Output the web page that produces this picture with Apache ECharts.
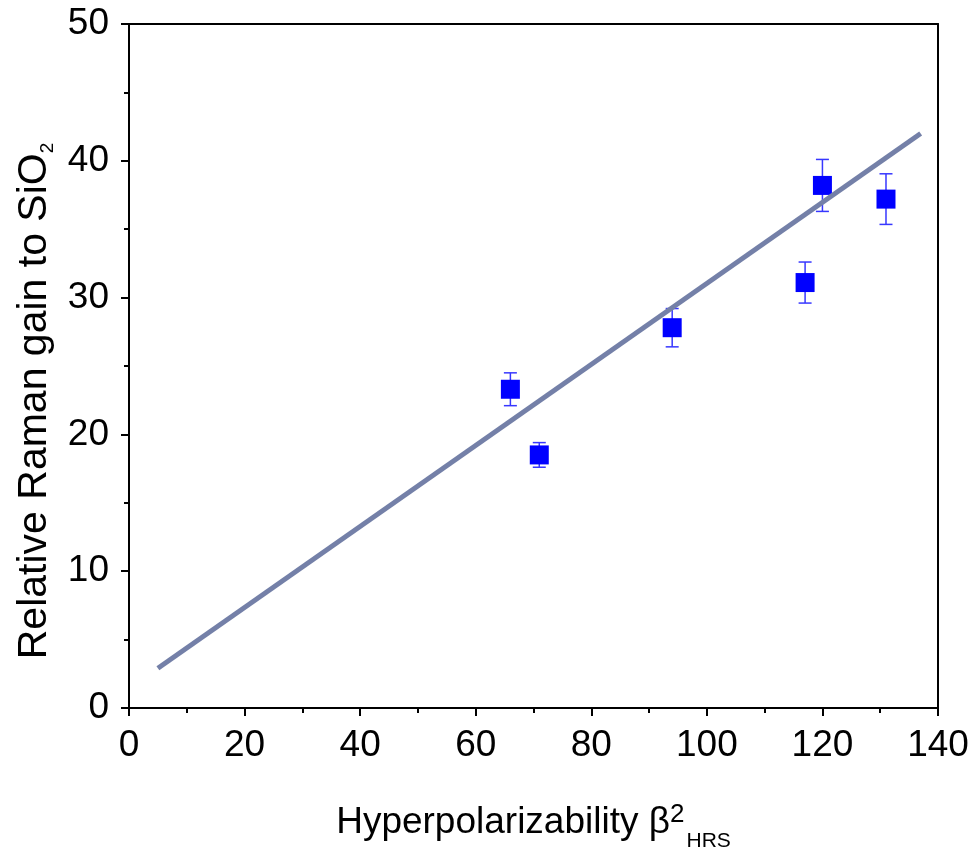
<!DOCTYPE html>
<html><head><meta charset="utf-8">
<script src="https://cdn.jsdelivr.net/npm/echarts@6/dist/echarts.min.js"></script>
<style>html,body{margin:0;padding:0;background:#fff}#c{width:971px;height:851px}</style>
</head><body><div id="c"></div>
<script>
// measured points
const xValues = [66, 71, 94, 117, 120, 131];
const yValues = [23.3, 18.5, 27.8, 31.1, 38.2, 37.2];
const yErrors = [1.2, 0.9, 1.4, 1.5, 1.9, 1.85];
// linear fit end points
const fitX = [5, 137];
const fitY = [2.9, 42.0];
// axes
const xRange = [0, 140];
const xStep = 20;
const yRange = [0, 50];
const yStep = 10;

const FONT = "'Liberation Sans', Arial, sans-serif";
const chart = echarts.init(document.getElementById('c'), null, {renderer: 'canvas'});

const pointData = xValues.map((x, i) => [x, yValues[i]]);
const errData = xValues.map((x, i) => [x, yValues[i], yErrors[i]]);
const fitData = fitX.map((x, i) => [x, fitY[i]]);

const axisLine = {show: true, onZero: false, lineStyle: {color: '#000', width: 2}};

chart.setOption({
  animation: false,
  backgroundColor: '#fff',
  grid: {left: 129, top: 24, width: 809, height: 684, containLabel: false, outerBoundsMode: 'none'},
  xAxis: [{
    type: 'value', min: xRange[0], max: xRange[1], interval: xStep,
    axisLine: axisLine,
    axisTick: {show: true, inside: false, length: 8, lineStyle: {color: '#000', width: 2}},
    minorTick: {show: true, splitNumber: 2, length: 5, lineStyle: {color: '#000', width: 2}},
    splitLine: {show: false}, minorSplitLine: {show: false},
    axisLabel: {fontSize: 37, color: '#000', fontFamily: FONT, margin: 19},
    name: '{m|Hyperpolarizability β}{sup|2}{sub|HRS}',
    nameLocation: 'middle', nameGap: 94,
    nameTextStyle: {
      color: '#000', fontFamily: FONT,
      rich: {
        m: {fontSize: 37, fontFamily: FONT, color: '#000', verticalAlign: 'top', padding: [2.5, 0, 0, 0]},
        sup: {fontSize: 26, fontFamily: FONT, color: '#000', verticalAlign: 'top', padding: [0, 0, 0, 0]},
        sub: {fontSize: 21, fontFamily: FONT, color: '#000', verticalAlign: 'top', padding: [29, 0, 0, 2]}
      }
    }
  }, {
    type: 'value', position: 'top', min: xRange[0], max: xRange[1], interval: xStep,
    axisLine: axisLine, axisTick: {show: false}, axisLabel: {show: false}, splitLine: {show: false}
  }],
  yAxis: [{
    type: 'value', min: yRange[0], max: yRange[1], interval: yStep,
    axisLine: axisLine,
    axisTick: {show: true, inside: false, length: 8, lineStyle: {color: '#000', width: 2}},
    minorTick: {show: true, splitNumber: 2, length: 5, lineStyle: {color: '#000', width: 2}},
    splitLine: {show: false}, minorSplitLine: {show: false},
    axisLabel: {fontSize: 37, color: '#000', fontFamily: FONT, margin: 20},
    name: '{m|Relative Raman gain to SiO}{sub|2}',
    nameLocation: 'middle', nameRotate: 90, nameGap: 52,
    nameTextStyle: {
      color: '#000', fontFamily: FONT, padding: [0, 70, 0, 0],
      rich: {
        m: {fontSize: 41, fontFamily: FONT, color: '#000', verticalAlign: 'top', padding: [0, 0, 0, 0]},
        sub: {fontSize: 19, fontFamily: FONT, color: '#000', verticalAlign: 'top', padding: [23.5, 0, 0, 0]}
      }
    }
  }, {
    type: 'value', position: 'right', min: yRange[0], max: yRange[1], interval: yStep,
    axisLine: axisLine, axisTick: {show: false}, axisLabel: {show: false}, splitLine: {show: false}
  }],
  series: [{
    type: 'custom',
    data: errData,
    z: 2,
    renderItem: function (params, api) {
      const x = api.value(0), y = api.value(1), e = api.value(2);
      const t = api.coord([x, y + e]);
      const b = api.coord([x, y - e]);
      const hw = 6.5;
      const st = {stroke: '#3737ff', lineWidth: 1.5};
      return {type: 'group', children: [
        {type: 'line', shape: {x1: t[0], y1: t[1], x2: b[0], y2: b[1]}, style: st},
        {type: 'line', shape: {x1: t[0] - hw, y1: t[1], x2: t[0] + hw, y2: t[1]}, style: st},
        {type: 'line', shape: {x1: b[0] - hw, y1: b[1], x2: b[0] + hw, y2: b[1]}, style: st}
      ]};
    }
  }, {
    type: 'scatter',
    data: pointData,
    symbol: 'rect', symbolSize: 19,
    itemStyle: {color: '#0000ff', opacity: 1},
    z: 3
  }, {
    type: 'line',
    data: fitData,
    symbol: 'none',
    lineStyle: {color: '#7480a8', width: 5},
    z: 4
  }]
});
</script>
</body></html>
